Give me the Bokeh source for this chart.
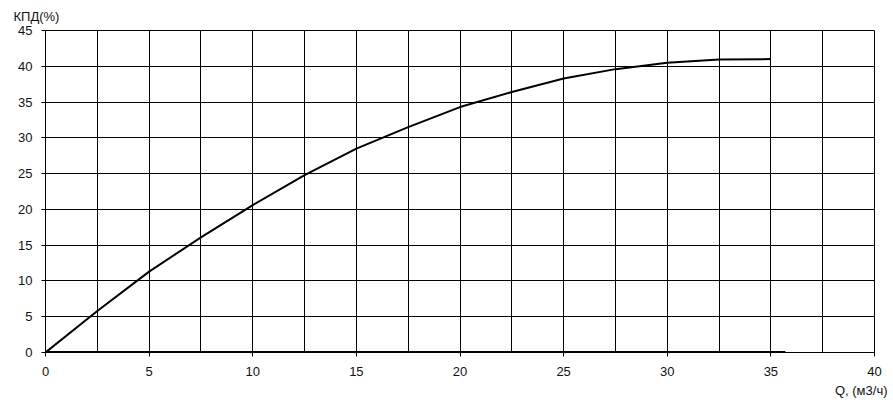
from bokeh.plotting import figure
from bokeh.models import Title, SingleIntervalTicker, FixedTicker, Range1d
from bokeh.embed import file_html
from bokeh.resources import INLINE

# data
q = [0, 2.5, 5, 7.5, 10, 12.5, 15, 17.5, 20, 22.5, 25, 27.5, 30, 32.5, 35]
eff = [0, 5.8, 11.3, 16.1, 20.6, 24.8, 28.5, 31.5, 34.3, 36.4, 38.3, 39.6, 40.5, 40.95, 41.0]
zero_q = [0, 35.7]
zero_v = [0, 0]
x_ticks = [0, 5, 10, 15, 20, 25, 30, 35, 40]
y_ticks = [0, 5, 10, 15, 20, 25, 30, 35, 40, 45]
x_title = "Q, (м3/ч)"
y_title = "КПД(%)"

FONT = "Liberation Sans"
TXT = "#111111"

p = figure(width=893, height=402, output_backend="svg", toolbar_location=None,
           x_range=Range1d(0, 40), y_range=Range1d(0, 45),
           min_border_left=45, min_border_right=19, min_border_top=30, min_border_bottom=50)
p.background_fill_color = "white"
p.border_fill_color = "white"
p.outline_line_color = "black"
p.outline_line_width = 1

p.xaxis.ticker = FixedTicker(ticks=x_ticks)
p.yaxis.ticker = FixedTicker(ticks=y_ticks)
p.xgrid.ticker = SingleIntervalTicker(interval=2.5)
p.ygrid.ticker = SingleIntervalTicker(interval=5)
for g in (p.xgrid, p.ygrid):
    g.grid_line_color = "black"
    g.grid_line_width = 1
    g.grid_line_alpha = 1

for ax in (p.xaxis, p.yaxis):
    ax.axis_line_color = "black"
    ax.major_tick_line_color = "black"
    ax.minor_tick_line_color = None
    ax.major_tick_in = 0
    ax.major_tick_out = 4
    ax.major_label_text_font = FONT
    ax.major_label_text_font_size = "13px"
    ax.major_label_text_color = TXT
p.xaxis.major_label_standoff = 10
p.yaxis.major_label_standoff = 9

p.line(zero_q, zero_v, line_color="black", line_width=3)
p.line(q, eff, line_color="black", line_width=2)

p.add_layout(Title(text=x_title, align="right", offset=-13, standoff=5,
                   vertical_align="bottom",
                   text_font=FONT, text_font_size="13px", text_font_style="normal",
                   text_color=TXT), "below")
p.add_layout(Title(text=y_title, align="left", offset=-32, standoff=10,
                   vertical_align="top",
                   text_font=FONT, text_font_size="13px", text_font_style="normal",
                   text_color=TXT), "above")

open("out.html", "w").write(file_html(p, INLINE))
